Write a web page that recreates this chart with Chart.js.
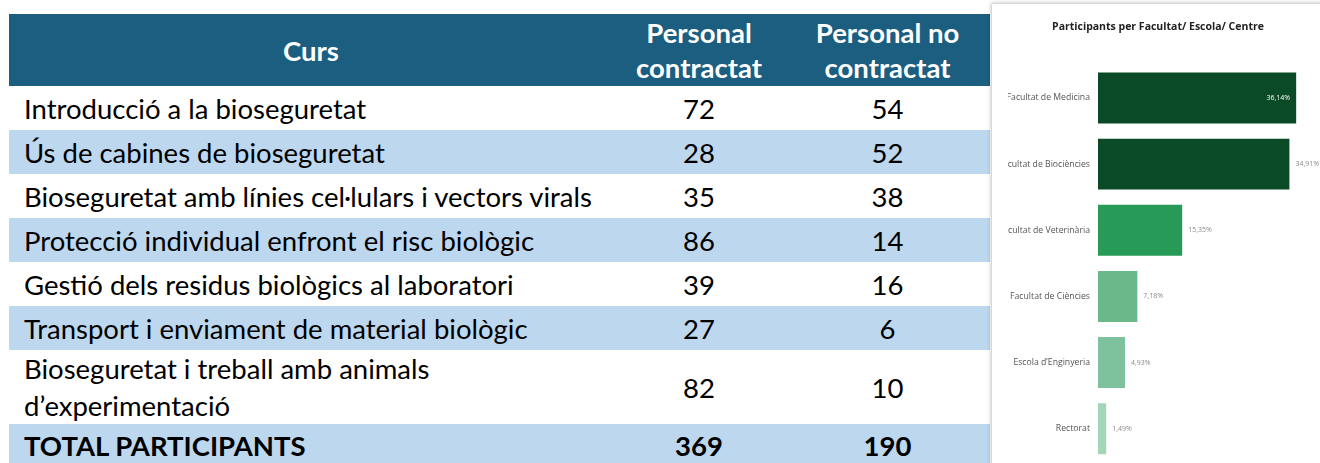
<!DOCTYPE html>
<html>
<head>
<meta charset="utf-8">
<script src="https://cdn.jsdelivr.net/npm/chart.js@4"></script>
<style>
  html, body { margin: 0; padding: 0; background: #fff; }
  body { width: 1320px; height: 463px; position: relative; overflow: hidden; font-family: 'Lato', 'Liberation Sans', sans-serif; }
  #tbl { position: absolute; left: 9px; top: 14px; width: 981px; border-collapse: collapse; table-layout: fixed; }
  #tbl th { background: #1b5e80; color: #fff; font-weight: bold; font-size: 27.5px; line-height: 35px; height: 72px; padding: 0; text-align: center; }
  #tbl td { font-size: 27.5px; color: #000; padding: 0; height: 44px; text-align: center; vertical-align: middle; line-height: 37px; }
  #tbl td.name { text-align: left; padding-left: 15px; }
  #tbl tr.alt td { background: #bdd7ee; }
  #tbl tr.two td { height: 71px; }
  #tbl tr.total td { font-weight: bold; height: 42px; background: #bdd7ee; }
  #panel { position: absolute; left: 992px; top: 4px; width: 340px; height: 470px; background: #fff; box-shadow: -1px -1px 4px rgba(0,0,0,0.25); }
  #wrap { position: absolute; left: 1008px; top: 0; width: 312px; height: 475px; }
</style>
</head>
<body>
<table id="tbl">
  <colgroup><col style="width:604px"><col style="width:172px"><col style="width:205px"></colgroup>
  <thead><tr><th>Curs</th><th>Personal<br>contractat</th><th>Personal no<br>contractat</th></tr></thead>
  <tbody id="tbody"></tbody>
</table>
<div id="panel"></div>
<div id="wrap"><canvas id="chart"></canvas></div>
<script>
// ── table data ──
const courses = [
  ['Introducció a la bioseguretat'],
  ['Ús de cabines de bioseguretat'],
  ['Bioseguretat amb línies cel·lulars i vectors virals'],
  ['Protecció individual enfront el risc biològic'],
  ['Gestió dels residus biològics al laboratori'],
  ['Transport i enviament de material biològic'],
  ['Bioseguretat i treball amb animals', 'd’experimentació']
];
const contractat = [72, 28, 35, 86, 39, 27, 82];
const noContractat = [54, 52, 38, 14, 16, 6, 10];
const totalLabel = 'TOTAL PARTICIPANTS';
const totals = [369, 190];

// ── chart data ──
const faculties = ['Facultat de Medicina', 'Facultat de Biociències', 'Facultat de Veterinària',
  'Facultat de Ciències', 'Escola d\u2019Enginyeria', 'Rectorat'];
const percents = [36.14, 34.91, 15.35, 7.18, 4.93, 1.49];
const barColors = ['#0a4a27', '#0a4a27', '#279a58', '#6bb98b', '#7dc29c', '#a3d6b7'];

const tb = document.getElementById('tbody');
tb.innerHTML = courses.map((c, i) => `
  <tr class="${i % 2 ? 'alt' : ''} ${c.length > 1 ? 'two' : ''}">
    <td class="name">${c.join('<br>')}</td><td>${contractat[i]}</td><td>${noContractat[i]}</td></tr>`).join('')
  + `<tr class="total"><td class="name">${totalLabel}</td><td>${totals[0]}</td><td>${totals[1]}</td></tr>`;

const fmtPct = v => v.toFixed(2).replace('.', ',') + '%';

// value labels: first bar inside (white), the rest outside (grey)
const valueLabels = {
  id: 'valueLabels',
  afterDatasetsDraw(chart) {
    const ctx = chart.ctx;
    const meta = chart.getDatasetMeta(0);
    ctx.save();
    ctx.font = '7px "Open Sans", sans-serif';
    ctx.textBaseline = 'middle';
    meta.data.forEach((bar, i) => {
      const txt = fmtPct(percents[i]);
      if (i === 0) {
        ctx.fillStyle = '#ffffff';
        ctx.textAlign = 'right';
        ctx.fillText(txt, bar.x - 6, bar.y);
      } else {
        ctx.fillStyle = '#8a8a8a';
        ctx.textAlign = 'left';
        ctx.fillText(txt, bar.x + 6, bar.y);
      }
    });
    ctx.restore();
  }
};

new Chart(document.getElementById('chart'), {
  type: 'bar',
  data: { labels: faculties, datasets: [{ data: percents, backgroundColor: barColors, borderWidth: 0,
    categoryPercentage: 0.77, barPercentage: 1 }] },
  options: {
    indexAxis: 'y',
    responsive: true, maintainAspectRatio: false, animation: false,
    layout: { padding: { top: 0, right: 12, bottom: 2.5, left: 0 } },
    plugins: {
      legend: { display: false },
      tooltip: { enabled: false },
      title: { display: true, text: 'Participants per Facultat/ Escola/ Centre', color: '#222',
        font: { family: 'Open Sans', size: 10.5, weight: 'bold' }, padding: { top: 21, bottom: 31.3 } }
    },
    scales: {
      x: { display: false, min: 0, max: 38.3 },
      y: {
        afterFit: s => { s.width = 90; },
        grid: { display: false, drawTicks: false }, border: { display: false },
        ticks: { color: '#555', padding: 8, font: { family: 'Open Sans', size: 8.7 } }
      }
    }
  },
  plugins: [valueLabels]
});
</script>
</body>
</html>
